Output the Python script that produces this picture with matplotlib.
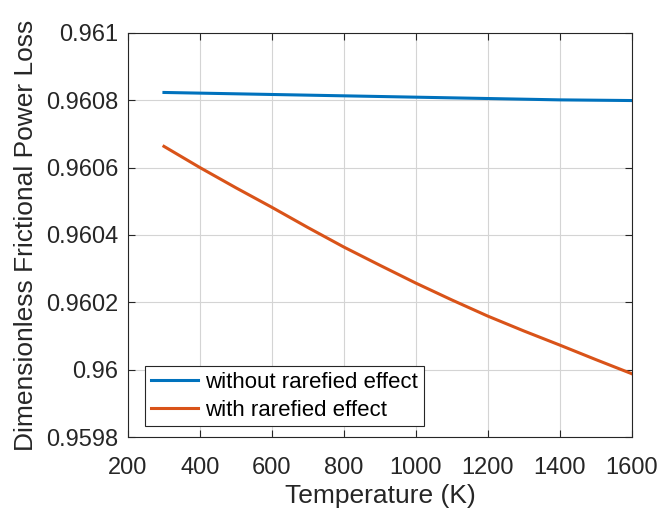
import numpy as np
import matplotlib
matplotlib.use("Agg")
import matplotlib.pyplot as plt

plt.rcParams["font.family"] = ["Liberation Sans", "DejaVu Sans"]

# data
temp = [300, 400, 500, 600, 700, 800, 900, 1000, 1100, 1200, 1300, 1400, 1500, 1600]
without_rarefied = [0.960823, 0.960821, 0.960819, 0.960817, 0.960815, 0.960813, 0.960811,
                    0.960809, 0.960807, 0.960805, 0.960803, 0.960801, 0.9608, 0.960799]
with_rarefied = [0.960663, 0.960600, 0.960540, 0.960482, 0.960422, 0.960364, 0.960310,
                 0.960257, 0.960207, 0.960159, 0.960115, 0.960073, 0.960030, 0.959988]

x_ticks = [200, 400, 600, 800, 1000, 1200, 1400, 1600]
y_ticks = [0.9598, 0.96, 0.9602, 0.9604, 0.9606, 0.9608, 0.961]
y_tick_labels = ["0.9598", "0.96", "0.9602", "0.9604", "0.9606", "0.9608", "0.961"]

blue = (0.0, 0.447, 0.741)
orange = (0.850, 0.325, 0.098)
dark = (0.15, 0.15, 0.15)

fig = plt.figure(figsize=(6.63, 5.13), dpi=100)
ax = fig.add_axes([0.193, 0.148, 0.76, 0.788])

ax.plot(temp, without_rarefied, color=blue, linewidth=2.2, label="without rarefied effect")
ax.plot(temp, with_rarefied, color=orange, linewidth=2.2, label="with rarefied effect")

ax.set_xlim(200, 1600)
ax.set_ylim(0.9598, 0.961)
ax.set_xticks(x_ticks)
ax.set_yticks(y_ticks)
ax.set_yticklabels(y_tick_labels)

ax.grid(True, color=(0.83, 0.83, 0.83), linewidth=0.8)
ax.set_axisbelow(True)
ax.tick_params(direction="in", top=True, right=True, length=5, width=0.8,
               labelsize=17, colors=dark)
ax.tick_params(axis="x", pad=14)
ax.tick_params(axis="y", pad=7)
for s in ax.spines.values():
    s.set_color(dark)
    s.set_linewidth(0.8)

ax.set_xlabel("Temperature (K)", fontsize=19, color=dark, labelpad=4)
ax.set_ylabel("Dimensionless Frictional Power Loss", fontsize=19, color=dark, labelpad=6)

leg = ax.legend(loc="lower left", bbox_to_anchor=(0.034, 0.027), fontsize=16,
                fancybox=False, framealpha=1, edgecolor=dark, borderpad=0.25,
                handlelength=2.15, handletextpad=0.3, labelspacing=0.3, borderaxespad=0)
leg.get_frame().set_linewidth(0.8)

fig.savefig("out.png", dpi=100)
plt.close(fig)
